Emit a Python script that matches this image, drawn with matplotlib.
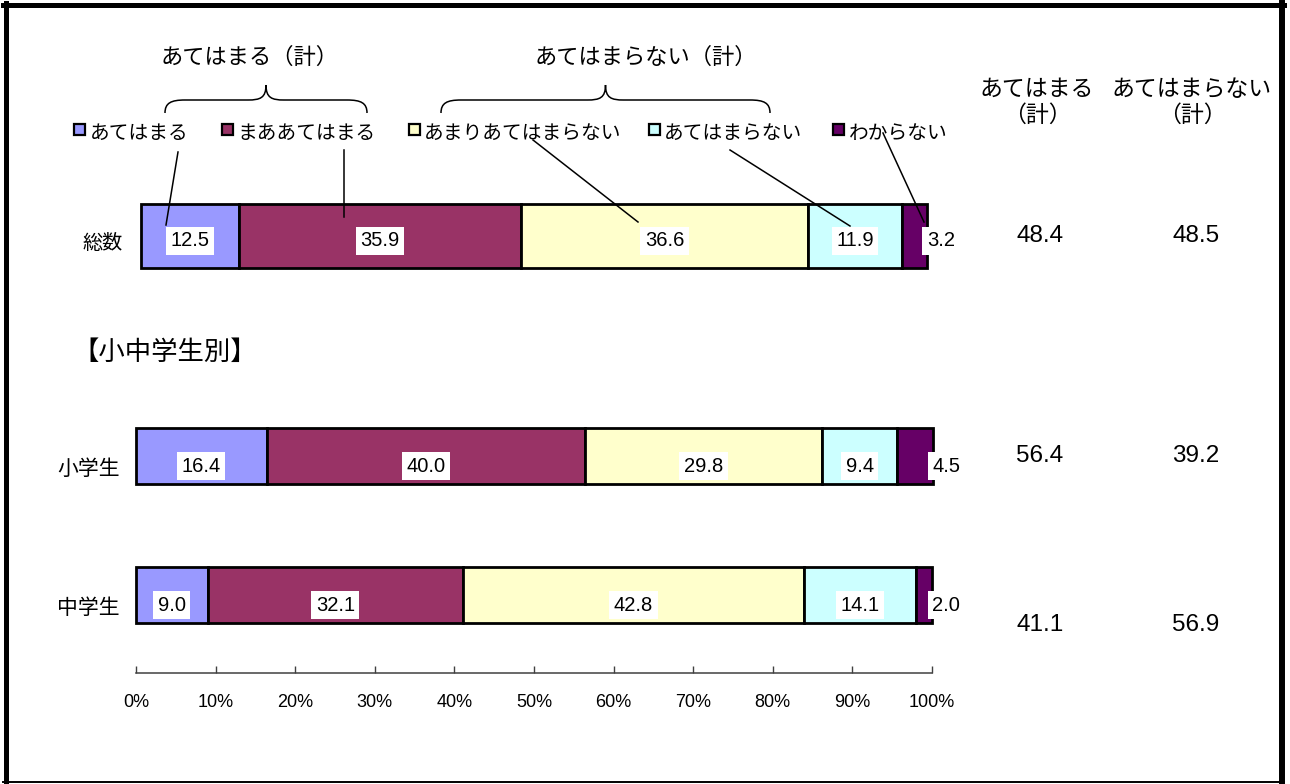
"""Stacked 100% bar chart: あてはまる / あてはまらない, 総数 and 小中学生別."""
import matplotlib
matplotlib.use("Agg")
import matplotlib.pyplot as plt
from matplotlib.lines import Line2D
from matplotlib.patches import Rectangle, PathPatch
from matplotlib.path import Path
from matplotlib.transforms import Affine2D, ScaledTranslation, blended_transform_factory

plt.rcParams["font.family"] = ["Liberation Sans", "Noto Sans CJK JP", "DejaVu Sans"]

# --- Data ---
categories = ["あてはまる", "まああてはまる", "あまりあてはまらない", "あてはまらない", "わからない"]
colors = ["#9999FF", "#993366", "#FFFFCC", "#CCFFFF", "#660066"]

total_label = "総数"
total_values = [12.5, 35.9, 36.6, 11.9, 3.2]

group_labels = ["小学生", "中学生"]
group_values = [
    [16.4, 40.0, 29.8, 9.4, 4.5],
    [9.0, 32.1, 42.8, 14.1, 2.0],
]

sum_headers = ["あてはまる\n（計）", "あてはまらない\n（計）"]
sum_total = [48.4, 48.5]
sum_groups = [[56.4, 39.2], [41.1, 56.9]]

W, H = 1290, 784
fig = plt.figure(figsize=(W / 100, H / 100), dpi=100)
# pixel coordinates, origin top-left
pix = Affine2D().scale(1 / W, -1 / H).translate(0, 1) + fig.transFigure

JP = "Noto Sans CJK JP"


def draw_bars(ax, ypos, values, bar_h, label_drop):
    for y, vals in zip(ypos, values):
        left = 0.0
        for i, v in enumerate(vals):
            ax.barh(y, v, left=left, height=bar_h, color=colors[i],
                    edgecolor="black", linewidth=2.0, clip_on=False, zorder=2)
            if i == len(vals) - 1:
                xt, ha = left + v, "left"
            else:
                xt, ha = left + v / 2, "center"
            ax.annotate(f"{v:.1f}", (xt, y), xytext=(0, -label_drop * 0.72),
                        textcoords="offset points", ha=ha, va="center",
                        fontsize=14.5, zorder=4, annotation_clip=False,
                        bbox=dict(boxstyle="square,pad=0.22", fc="white", ec="none"))
            left += v


# --- 総数 bar ---
ax_top = fig.add_axes([141 / W, 1 - 286 / H, 785 / W, 100 / H])
ax_top.set_xlim(0, 100)
ax_top.set_ylim(0.5, -0.5)
draw_bars(ax_top, [0], [total_values], 0.64, 5)
ax_top.set_xticks([])
ax_top.set_yticks([0])
ax_top.set_yticklabels([total_label], fontsize=14.5, family=JP)
ax_top.tick_params(axis="y", length=0, pad=13.5)
for s in ax_top.spines.values():
    s.set_visible(False)
ax_top.patch.set_alpha(0)

# --- 小学生 / 中学生 bars ---
ax = fig.add_axes([136 / W, 1 - 673 / H, 796 / W, 273 / H])
ax.set_xlim(0, 100)
ax.set_ylim(1.561, -0.403)
rows = list(range(len(group_labels)))
draw_bars(ax, rows, group_values, 0.403, 10)
ax.set_xticks(range(0, 101, 10))
ax.set_xticklabels([f"{t}%" for t in range(0, 101, 10)], fontsize=13)
ax.tick_params(axis="x", direction="in", length=5, width=1.0, color="#404040", pad=15)
ax.set_yticks(rows)
ax.set_yticklabels(group_labels, fontsize=15, family=JP)
ax.tick_params(axis="y", length=0, pad=11.5)
for name, s in ax.spines.items():
    s.set_visible(name == "bottom")
ax.spines["bottom"].set_color("#404040")
ax.spines["bottom"].set_linewidth(1.1)
ax.patch.set_alpha(0)

# shift row labels slightly down as in the original
for lab in ax_top.get_yticklabels():
    lab.set_transform(lab.get_transform() + ScaledTranslation(0, -5 / 100, fig.dpi_scale_trans))
for lab in ax.get_yticklabels():
    lab.set_transform(lab.get_transform() + ScaledTranslation(0, -10 / 100, fig.dpi_scale_trans))

# --- summary columns ---
col_x = [1040, 1196]
head_x = [1037, 1192]
for hx, htxt in zip(head_x, sum_headers):
    fig.text(hx, 102, htxt, transform=pix, ha="center", va="center",
             fontsize=16.5, family=JP, multialignment="center", linespacing=1.15)

tr_top = blended_transform_factory(pix, ax_top.transData)
for cx, v in zip(col_x, sum_total):
    fig.text(cx, 0, f"{v:.1f}", transform=tr_top, ha="center", va="center", fontsize=17.5)
tr_low = blended_transform_factory(pix, ax.transData)
row_shift = [0, 30]
for r, vals in enumerate(sum_groups):
    for cx, v in zip(col_x, vals):
        fig.text(cx, r, f"{v:.1f}",
                 transform=tr_low + ScaledTranslation(0, -row_shift[r] / 100, fig.dpi_scale_trans),
                 ha="center", va="center", fontsize=17.5)

# --- section title ---
fig.text(72, 352, "【小中学生別】", transform=pix, ha="left", va="center", fontsize=19, family=JP)

# --- legend (drawn by hand, with leader lines) ---
sq_x = [74, 222, 409, 649, 833]
txt_x = [90, 237, 424, 664, 849]
for c, name, sx, tx in zip(colors, categories, sq_x, txt_x):
    fig.add_artist(Rectangle((sx, 124), 11, 11, transform=pix, fc=c, ec="black", lw=1.6))
    fig.text(tx, 133, name, transform=pix, ha="left", va="center", fontsize=14.2, family=JP)

leaders = [((178, 152), (166, 225)), ((344, 150), (344, 217)), ((533, 140), (638, 222)),
           ((730, 150), (850, 226)), ((883, 133), (924, 222))]
for (x0, y0), (x1, y1) in leaders:
    fig.add_artist(Line2D([x0, x1], [y0, y1], transform=pix, color="black", lw=1.1, zorder=5))


# --- braces + group headings ---
def brace(x0, x1, y_end=113, y_mid=100, y_peak=85):
    xc = (x0 + x1) / 2
    verts = [(x0, y_end), (x0, y_mid + 3), (x0 + 6, y_mid), (x0 + 20, y_mid),
             (xc - 18, y_mid),
             (xc - 6, y_mid), (xc, y_mid - 2), (xc, y_peak),
             (xc, y_mid - 2), (xc + 6, y_mid), (xc + 18, y_mid),
             (x1 - 20, y_mid),
             (x1 - 6, y_mid), (x1, y_mid + 3), (x1, y_end)]
    codes = [Path.MOVETO, Path.CURVE4, Path.CURVE4, Path.CURVE4, Path.LINETO,
             Path.CURVE4, Path.CURVE4, Path.CURVE4,
             Path.CURVE4, Path.CURVE4, Path.CURVE4, Path.LINETO,
             Path.CURVE4, Path.CURVE4, Path.CURVE4]
    fig.add_artist(PathPatch(Path(verts, codes), transform=pix, fc="none", ec="black", lw=1.1))


brace(165, 367)
brace(441, 770)
fig.text(250, 57, "あてはまる（計）", transform=pix, ha="center", va="center", fontsize=16, family=JP)
fig.text(646, 57, "あてはまらない（計）", transform=pix, ha="center", va="center", fontsize=16, family=JP)

# --- outer frame ---
fig.add_artist(Line2D([5.5, 5.5], [3, 783], transform=pix, color="black", lw=3.6))
fig.add_artist(Line2D([3, 1284], [5, 5], transform=pix, color="black", lw=3.6))
fig.add_artist(Line2D([1282, 1282], [3, 783], transform=pix, color="black", lw=4.3))
fig.add_artist(Line2D([3, 1284], [782.5, 782.5], transform=pix, color="black", lw=1.4))

fig.savefig("out.png", dpi=100)
